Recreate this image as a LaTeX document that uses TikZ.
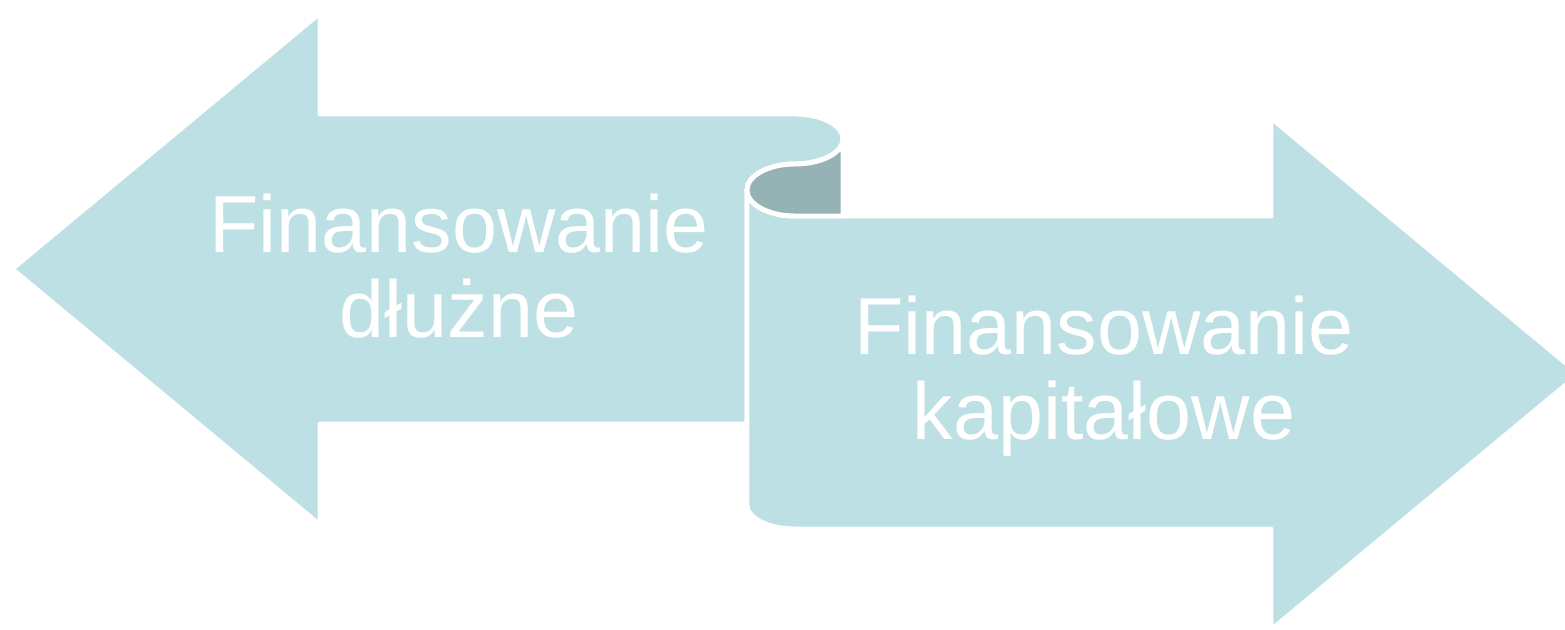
\documentclass[tikz,border=0pt]{standalone}
\usepackage{fontspec}
\setmainfont{Liberation Sans}
\definecolor{arrowfill}{RGB}{188,224,227}
\definecolor{rollfill}{RGB}{149,179,181}

\begin{document}
\begin{tikzpicture}[
    x=0.01cm, y=-0.01cm,
    arrowshape/.style={fill=arrowfill, draw=white, line width=1.4pt, line join=round},
    rollback/.style={fill=rollfill, draw=white, line width=1.4pt, line join=round},
    arrowtext/.style={text=white, align=center, inner sep=0pt, font=\fontsize{23}{24.2}\selectfont}
]
\useasboundingbox (0,0) rectangle (1565,630);

% Left arrow with rolled end
\draw[arrowshape] (12,269) -- (320,13) -- (320,114) -- (795,114)
    arc[start angle=-90, end angle=90, x radius=48, y radius=25]
    arc[start angle=270, end angle=180, x radius=48, y radius=26]
    -- (747,424) -- (320,424) -- (320,525) -- cycle;

% Right arrow
\draw[arrowshape] (747,190) -- (747,505)
    arc[start angle=180, end angle=90, x radius=48, y radius=24]
    -- (1271,529) -- (1271,630) -- (1579,374) -- (1271,118) -- (1271,216) -- (795,216)
    arc[start angle=90, end angle=180, x radius=48, y radius=26] -- cycle;

% Back side of the roll
\draw[rollback] (747,190) arc[start angle=180, end angle=90, x radius=48, y radius=26]
    -- (843,216) -- (843,139)
    arc[start angle=0, end angle=90, x radius=48, y radius=25]
    arc[start angle=270, end angle=180, x radius=48, y radius=26] -- cycle;

% Labels
\node[arrowtext] (debt) at (459,266) {Finansowanie\\dłużne};
\node[arrowtext] (equity) at (1104,376) {Finansowanie\\kapitałowe};

\end{tikzpicture}
\end{document}
